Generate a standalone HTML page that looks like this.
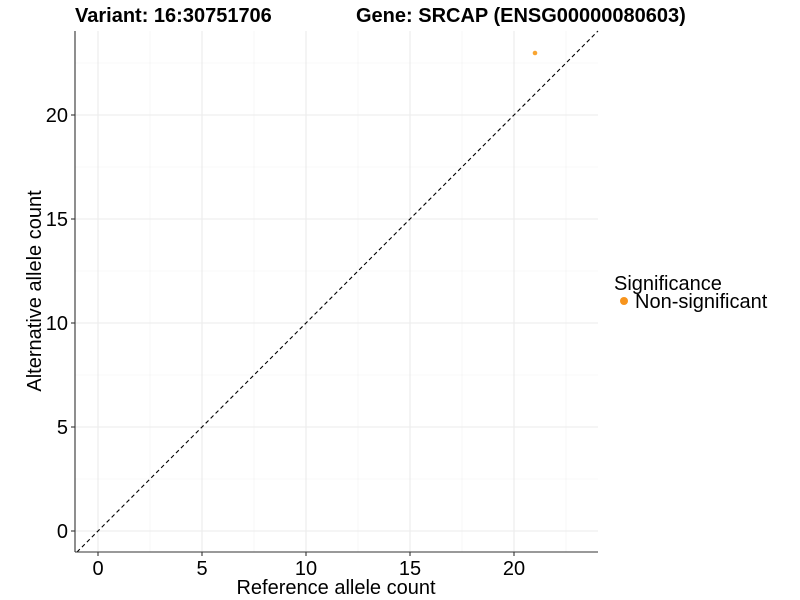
<!DOCTYPE html>
<html><head><style>body{margin:0;background:#fff}svg{display:block}</style></head><body>
<svg width="800" height="600" xmlns="http://www.w3.org/2000/svg" font-family="Liberation Sans, sans-serif">
<rect width="800" height="600" fill="#fff"/>
<g stroke="#f2f2f2" stroke-width="0.6">
<line x1="150" y1="31" x2="150" y2="552"/><line x1="254" y1="31" x2="254" y2="552"/><line x1="358" y1="31" x2="358" y2="552"/><line x1="462" y1="31" x2="462" y2="552"/><line x1="566" y1="31" x2="566" y2="552"/>
<line x1="75" y1="479" x2="598" y2="479"/><line x1="75" y1="375" x2="598" y2="375"/><line x1="75" y1="271" x2="598" y2="271"/><line x1="75" y1="167" x2="598" y2="167"/><line x1="75" y1="63" x2="598" y2="63"/>
</g>
<g stroke="#ebebeb" stroke-width="1.1">
<line x1="98" y1="31" x2="98" y2="552"/><line x1="202" y1="31" x2="202" y2="552"/><line x1="306" y1="31" x2="306" y2="552"/><line x1="410" y1="31" x2="410" y2="552"/><line x1="514" y1="31" x2="514" y2="552"/>
<line x1="75" y1="531" x2="598" y2="531"/><line x1="75" y1="427" x2="598" y2="427"/><line x1="75" y1="323" x2="598" y2="323"/><line x1="75" y1="219" x2="598" y2="219"/><line x1="75" y1="115" x2="598" y2="115"/>
</g>
<line x1="77" y1="552" x2="598" y2="31" stroke="#000" stroke-width="1.1" stroke-dasharray="4,3"/>
<circle cx="535" cy="53" r="2.3" fill="#f9a532"/>
<g stroke="#333" stroke-width="1.1">
<line x1="75" y1="31" x2="75" y2="552"/><line x1="75" y1="552" x2="598" y2="552"/>
<line x1="98" y1="552" x2="98" y2="556"/><line x1="202" y1="552" x2="202" y2="556"/><line x1="306" y1="552" x2="306" y2="556"/><line x1="410" y1="552" x2="410" y2="556"/><line x1="514" y1="552" x2="514" y2="556"/>
<line x1="71" y1="531" x2="75" y2="531"/><line x1="71" y1="427" x2="75" y2="427"/><line x1="71" y1="323" x2="75" y2="323"/><line x1="71" y1="219" x2="75" y2="219"/><line x1="71" y1="115" x2="75" y2="115"/>
</g>
<g font-size="20" fill="#000" text-anchor="middle">
<text x="98" y="575">0</text><text x="202" y="575">5</text><text x="306" y="575">10</text><text x="410" y="575">15</text><text x="514" y="575">20</text>
</g>
<g font-size="20" fill="#000" text-anchor="end">
<text x="68" y="538">0</text><text x="68" y="434">5</text><text x="68" y="330">10</text><text x="68" y="226">15</text><text x="68" y="122">20</text>
</g>
<text x="336" y="594" font-size="20" text-anchor="middle">Reference allele count</text>
<text transform="translate(41,291) rotate(-90)" font-size="20" text-anchor="middle">Alternative allele count</text>
<text x="75" y="22" font-size="20" font-weight="bold">Variant: 16:30751706</text>
<text x="356" y="22" font-size="20" font-weight="bold">Gene: SRCAP (ENSG00000080603)</text>
<text x="614" y="290" font-size="20">Significance</text>
<circle cx="624" cy="301" r="4" fill="#f7941d"/>
<text x="635" y="308" font-size="20">Non-significant</text>
</svg>
</body></html>
